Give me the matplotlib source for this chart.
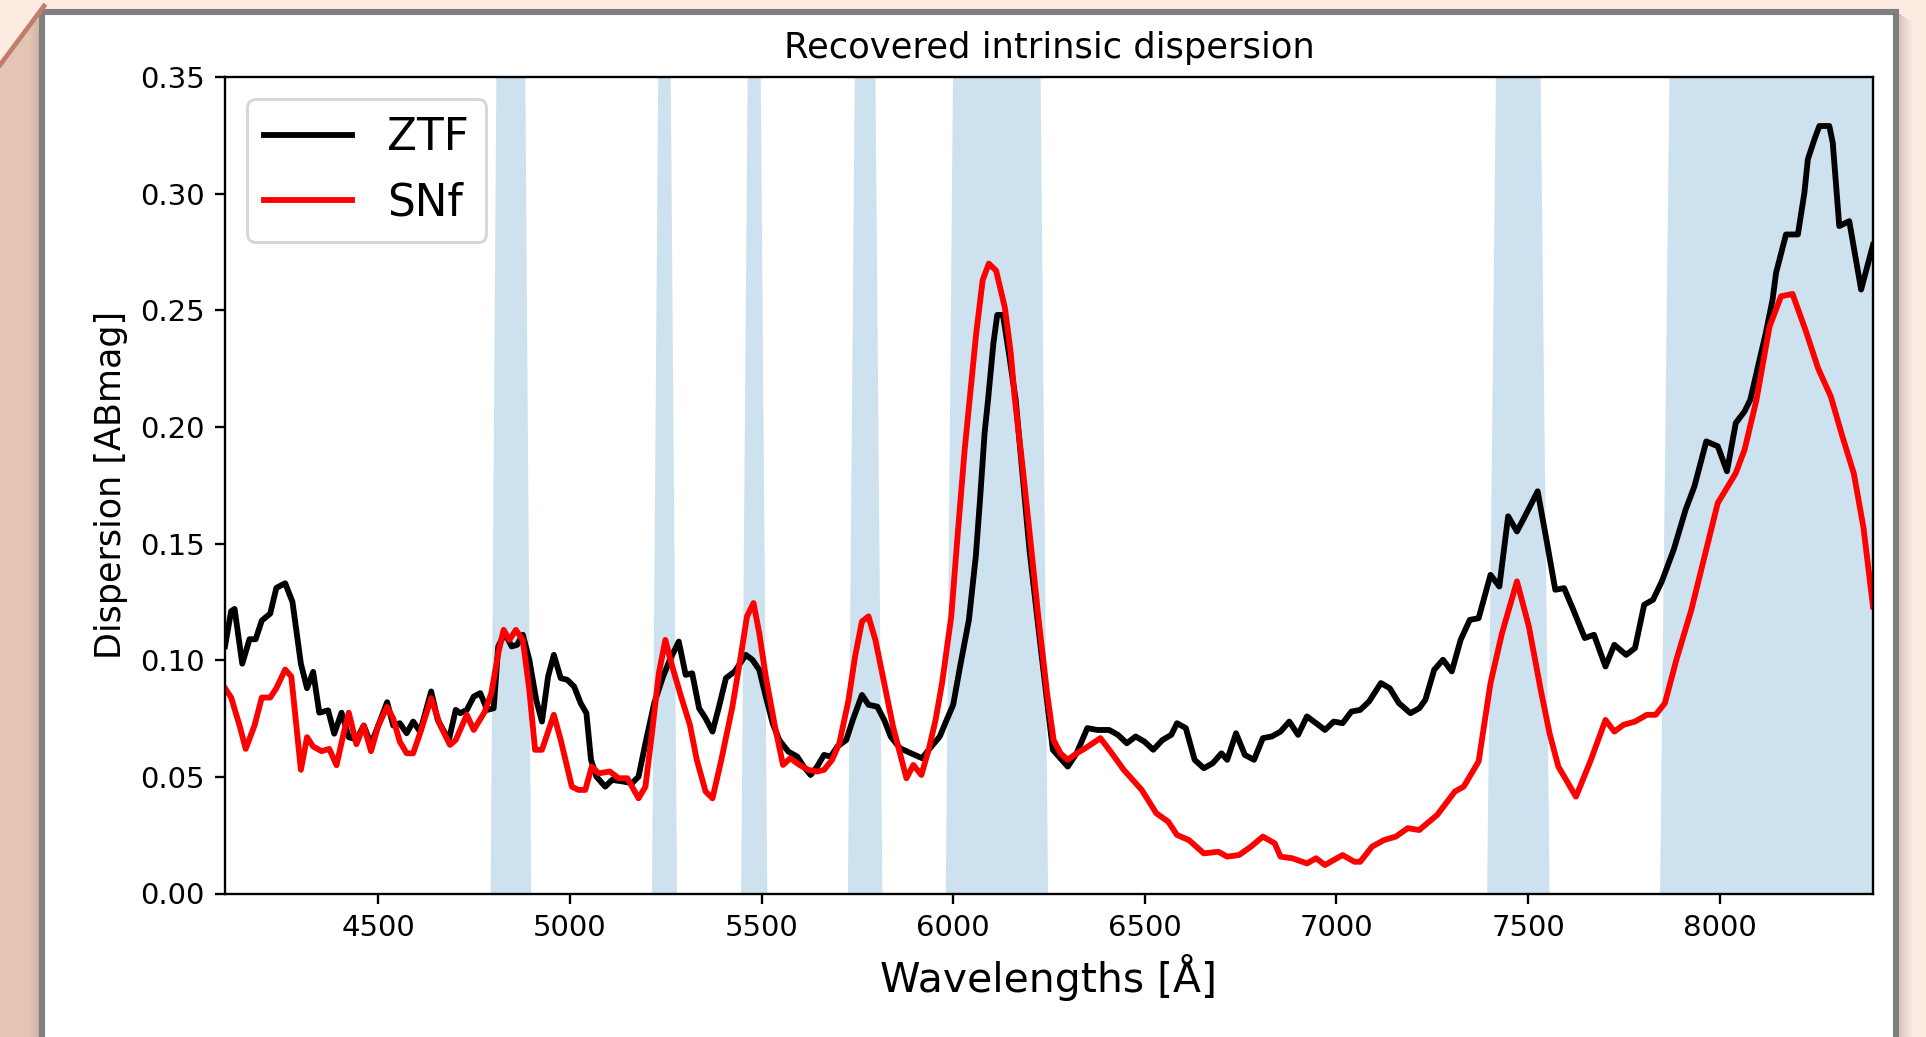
import numpy as np
import matplotlib
matplotlib.use('Agg')
import matplotlib.pyplot as plt
from matplotlib.patches import Polygon, Rectangle

# ZTF recovered dispersion
ztf_wave = [4100, 4116, 4125, 4145, 4164, 4180, 4196, 4218, 4234, 4257, 4276, 4298, 4314, 4330,
            4346, 4369, 4385, 4404, 4423, 4443, 4462, 4481, 4500, 4523, 4539, 4556, 4574, 4591,
            4609, 4638, 4655, 4684, 4702, 4714, 4731, 4749, 4766, 4784, 4801, 4813, 4830, 4848,
            4862, 4877, 4894, 4912, 4927, 4943, 4958, 4976, 4993, 5011, 5028, 5043, 5055, 5069,
            5092, 5110, 5139, 5162, 5179, 5197, 5220, 5243, 5261, 5284, 5302, 5319, 5337, 5354,
            5372, 5389, 5407, 5430, 5459, 5476, 5494, 5511, 5529, 5546, 5570, 5593, 5610, 5628,
            5645, 5663, 5680, 5698, 5721, 5738, 5762, 5779, 5802, 5820, 5837, 5861, 5890, 5919,
            5936, 5965, 5983, 6000, 6018, 6041, 6059, 6070, 6082, 6091, 6105, 6115, 6130, 6145,
            6163, 6175, 6199, 6229, 6260, 6299, 6322, 6350, 6376, 6407, 6430, 6453, 6476, 6499,
            6522, 6546, 6569, 6584, 6607, 6630, 6654, 6677, 6700, 6715, 6738, 6761, 6785, 6808,
            6831, 6854, 6877, 6900, 6923, 6947, 6970, 6993, 7016, 7039, 7062, 7085, 7116, 7139,
            7163, 7193, 7216, 7232, 7255, 7278, 7301, 7324, 7348, 7371, 7402, 7425, 7448, 7471,
            7494, 7525, 7548, 7571, 7594, 7618, 7648, 7672, 7702, 7725, 7756, 7779, 7803, 7826,
            7849, 7880, 7911, 7934, 7965, 7995, 8019, 8042, 8065, 8080, 8100, 8120, 8138, 8147,
            8173, 8204, 8221, 8230, 8247, 8260, 8286, 8295, 8312, 8338, 8369, 8400]
ztf_disp = [0.106, 0.121, 0.122, 0.0985, 0.109, 0.109, 0.117, 0.120, 0.131, 0.133, 0.125, 0.0985, 0.088, 0.095,
            0.0775, 0.0785, 0.0685, 0.0775, 0.067, 0.066, 0.072, 0.064, 0.072, 0.082, 0.072, 0.073, 0.0687, 0.0737,
            0.0694, 0.0866, 0.0744, 0.0658, 0.0787, 0.0773, 0.0787, 0.0844, 0.0859, 0.0787, 0.0794, 0.1059, 0.1116, 0.1059,
            0.1066, 0.1109, 0.1002, 0.083, 0.0737, 0.093, 0.1023, 0.0923, 0.0916, 0.0887, 0.0816, 0.0773, 0.0573, 0.0501,
            0.0458, 0.0487, 0.048, 0.0473, 0.0501, 0.0644, 0.0816, 0.093, 0.1002, 0.108, 0.0937, 0.0944, 0.0794, 0.0751,
            0.0694, 0.0801, 0.0923, 0.0952, 0.1023, 0.1002, 0.0959, 0.0844, 0.073, 0.0658, 0.0608, 0.0587, 0.0544, 0.0508,
            0.0544, 0.0594, 0.0587, 0.063, 0.0658, 0.0744, 0.0851, 0.0809, 0.0801, 0.0744, 0.0673, 0.0623, 0.0601, 0.058,
            0.0616, 0.0673, 0.0744, 0.0809, 0.0973, 0.1173, 0.1445, 0.1688, 0.1974, 0.2117, 0.236, 0.248, 0.248, 0.232,
            0.2117, 0.1903, 0.1474, 0.1045, 0.0616, 0.0544, 0.0601, 0.0709, 0.0701, 0.0701, 0.068, 0.0644, 0.0673, 0.0651,
            0.0616, 0.0658, 0.068, 0.073, 0.0709, 0.0573, 0.0537, 0.0558, 0.0601, 0.0573, 0.0687, 0.0594, 0.0573, 0.0666,
            0.0673, 0.0694, 0.0737, 0.068, 0.0759, 0.073, 0.0701, 0.0737, 0.073, 0.078, 0.0787, 0.0823, 0.0902, 0.088,
            0.0816, 0.0773, 0.0794, 0.083, 0.0959, 0.1002, 0.0952, 0.1087, 0.1173, 0.118, 0.1366, 0.1316, 0.1617, 0.1552,
            0.1624, 0.1724, 0.1516, 0.1302, 0.1309, 0.1216, 0.1095, 0.1109, 0.0973, 0.1066, 0.1023, 0.1052, 0.1238, 0.1259,
            0.1338, 0.1474, 0.1645, 0.1745, 0.1938, 0.1917, 0.181, 0.2017, 0.2067, 0.2117, 0.226, 0.24, 0.2546, 0.266,
            0.2825, 0.2825, 0.3004, 0.3147, 0.3232, 0.329, 0.329, 0.3218, 0.2861, 0.2882, 0.2589, 0.278]

# SNf recovered dispersion
snf_wave = [4100, 4116, 4138, 4154, 4177, 4196, 4218, 4234, 4257, 4273, 4286, 4298, 4314, 4330,
            4352, 4372, 4391, 4410, 4423, 4443, 4462, 4481, 4500, 4523, 4539, 4556, 4574, 4591,
            4609, 4638, 4661, 4687, 4702, 4731, 4749, 4778, 4795, 4813, 4827, 4842, 4859, 4877,
            4894, 4909, 4927, 4958, 4976, 5005, 5022, 5040, 5057, 5075, 5104, 5127, 5150, 5179,
            5197, 5214, 5232, 5249, 5267, 5290, 5313, 5331, 5354, 5372, 5395, 5424, 5447, 5462,
            5479, 5494, 5511, 5535, 5556, 5575, 5599, 5622, 5645, 5663, 5684, 5703, 5727, 5744,
            5762, 5779, 5797, 5820, 5843, 5861, 5878, 5896, 5917, 5936, 5954, 5971, 5995, 6012,
            6030, 6043, 6060, 6077, 6093, 6112, 6135, 6150, 6161, 6181, 6204, 6222, 6245, 6262,
            6280, 6299, 6322, 6345, 6384, 6414, 6445, 6492, 6530, 6561, 6584, 6615, 6654, 6692,
            6715, 6746, 6777, 6808, 6839, 6854, 6885, 6923, 6947, 6970, 7016, 7047, 7062, 7093,
            7124, 7155, 7186, 7216, 7263, 7309, 7332, 7371, 7402, 7432, 7471, 7502, 7533, 7556,
            7579, 7625, 7664, 7702, 7725, 7749, 7779, 7810, 7833, 7857, 7887, 7926, 7965, 7995,
            8042, 8065, 8096, 8130, 8160, 8190, 8225, 8257, 8290, 8320, 8350, 8375, 8400]
snf_disp = [0.088, 0.084, 0.072, 0.062, 0.072, 0.084, 0.084, 0.088, 0.096, 0.093, 0.072, 0.053, 0.067, 0.063,
            0.061, 0.062, 0.055, 0.069, 0.0775, 0.064, 0.072, 0.061, 0.072, 0.080, 0.075, 0.0651, 0.0601, 0.0601,
            0.0687, 0.0837, 0.0723, 0.0637, 0.0658, 0.0766, 0.0701, 0.078, 0.0859, 0.103, 0.113, 0.1087, 0.113, 0.1087,
            0.0873, 0.0616, 0.0616, 0.0766, 0.0658, 0.0458, 0.0444, 0.0444, 0.0544, 0.0515, 0.0523, 0.0494, 0.0494, 0.0408,
            0.0458, 0.0687, 0.0944, 0.1087, 0.0973, 0.0844, 0.0723, 0.0573, 0.0437, 0.0408, 0.0573, 0.0801, 0.103, 0.1188,
            0.1245, 0.1116, 0.093, 0.0716, 0.0551, 0.058, 0.0551, 0.053, 0.0523, 0.053, 0.0573, 0.0644, 0.083, 0.1016,
            0.1166, 0.1188, 0.1087, 0.0902, 0.0716, 0.0601, 0.0494, 0.0551, 0.0508, 0.0616, 0.0744, 0.0902, 0.1188, 0.1545,
            0.1903, 0.2117, 0.240, 0.263, 0.270, 0.267, 0.251, 0.232, 0.2117, 0.183, 0.1474, 0.1188, 0.0859, 0.0658,
            0.0601, 0.0573, 0.0601, 0.0623, 0.0666, 0.0601, 0.053, 0.0444, 0.0344, 0.0308, 0.0251, 0.0229, 0.0172, 0.0179,
            0.0158, 0.0165, 0.0201, 0.0244, 0.0215, 0.0158, 0.0151, 0.0129, 0.0151, 0.0122, 0.0165, 0.0136, 0.0136, 0.0201,
            0.0229, 0.0244, 0.028, 0.0272, 0.0337, 0.0437, 0.0458, 0.0566, 0.0902, 0.1116, 0.1338, 0.1145, 0.0873, 0.0687,
            0.0544, 0.0415, 0.0573, 0.0744, 0.0694, 0.0723, 0.0737, 0.0766, 0.0766, 0.0816, 0.1002, 0.1216, 0.1474, 0.1674,
            0.1802, 0.1903, 0.2117, 0.243, 0.256, 0.257, 0.241, 0.225, 0.213, 0.196, 0.180, 0.157, 0.123]

# shaded spectral regions [A]
band_lo = [4802, 5222, 5453, 5735, 5980, 7412, 7855]
band_hi = [4884, 5276, 5507, 5808, 6238, 7542, 8400]

# log spaced wavelength grid used for the shaded mask
grid = np.geomspace(4100, 8400, 231)
mask = np.zeros(len(grid))
for lo, hi in zip(band_lo, band_hi):
    mask[(grid >= lo) & (grid <= hi)] = 1

W, H, DPI = 1927, 1037, 210
fig = plt.figure(figsize=(W / DPI, H / DPI), dpi=DPI)
fig.patch.set_facecolor('#fdebe2')

# slide background / frame
bg = fig.add_axes([0, 0, 1, 1])
bg.set_xlim(0, W)
bg.set_ylim(H, 0)
bg.axis('off')
bg.add_patch(Polygon([(0, 65), (44, 6), (44, H), (0, H)], closed=True, color='#e4c4b3', lw=0))
bg.plot([0, 44], [65, 6], color='#c27c6c', lw=1.6)
for i in range(8):
    bg.add_patch(Rectangle((1899 + i * 1.6, 14 + i), 1.6, H, color='#9a8a84', alpha=0.35 * (1 - i / 8), lw=0))
    bg.add_patch(Rectangle((40 - (i + 1) * 1.2, 20), 1.2, H, color='#a08a80', alpha=0.3 * (1 - i / 8), lw=0))
bg.add_patch(Rectangle((42.5, 12), 1853.5, 1200, facecolor='white', edgecolor='#808080', lw=2.1))

ax = fig.add_axes([225 / W, (H - 893.5) / H, (1873 - 225) / W, (893.5 - 77) / H])
ax.fill_between(grid, 0.35 * mask, color='C0', alpha=0.22, lw=0)
ax.plot(ztf_wave, ztf_disp, color='k', lw=2.0, label='ZTF')
ax.plot(snf_wave, snf_disp, color='r', lw=2.0, label='SNf')
ax.set_xlim(4100, 8400)
ax.set_ylim(0, 0.35)
ax.set_title('Recovered intrinsic dispersion', fontsize=12.1, pad=6.5)
ax.set_xlabel('Wavelengths [Å]', fontsize=14)
ax.set_ylabel('Dispersion [ABmag]', fontsize=12)
ax.legend(fontsize=15, loc='upper left')

fig.savefig('out.png', dpi=DPI)
